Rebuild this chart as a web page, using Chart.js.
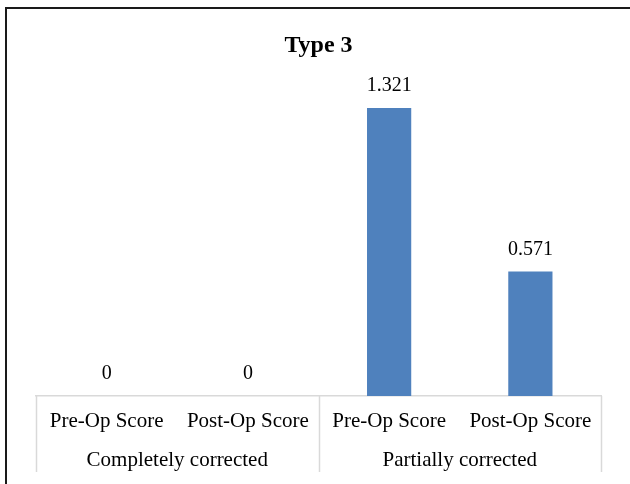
<!DOCTYPE html>
<html>
<head>
<meta charset="utf-8">
<script src="https://cdn.jsdelivr.net/npm/chart.js@4/dist/chart.umd.min.js"></script>
<style>
  html, body { margin: 0; padding: 0; background: #fff; overflow: hidden; }
  #wrap { position: relative; width: 630px; height: 484px; }
  #frame {
    position: absolute; left: 5px; top: 7px; right: -10px; bottom: -10px;
    border-top: 2px solid #1a1a1a; border-left: 2px solid #1a1a1a;
    pointer-events: none;
  }
</style>
</head>
<body>
<div id="wrap">
  <canvas id="chart" width="630" height="484"></canvas>
  <div id="frame"></div>
</div>
<script>
// Chart data
const scoreLabels = ["Pre-Op Score", "Post-Op Score", "Pre-Op Score", "Post-Op Score"]
const groupLabels = ["Completely corrected", "Partially corrected"]
const scoreValues = [0, 0, 1.321, 0.571]
const chartTitle = "Type 3"

const FONT = "'Liberation Serif', 'Times New Roman', serif"
const LINE = "#d9d9d9"

// Value labels above each bar
const valueLabels = {
  id: "valueLabels",
  afterDatasetsDraw(chart) {
    const ctx = chart.ctx
    const meta = chart.getDatasetMeta(0)
    ctx.save()
    ctx.font = "20px " + FONT
    ctx.fillStyle = "#000"
    ctx.textAlign = "center"
    ctx.textBaseline = "middle"
    meta.data.forEach((bar, i) => {
      ctx.fillText(String(scoreValues[i]), bar.x, bar.y - 22)
    })
    ctx.restore()
  },
}

// Group divider lines below the axis, taken from the group scale
const groupDividers = {
  id: "groupDividers",
  afterDraw(chart) {
    const xs = chart.scales.x
    const gs = chart.scales.x2
    const ctx = chart.ctx
    const step = (gs.right - gs.left) / groupLabels.length
    ctx.save()
    ctx.strokeStyle = LINE
    ctx.lineWidth = 1.5
    for (let i = 0; i <= groupLabels.length; i++) {
      const x = Math.round(gs.left + i * step) + 0.5
      ctx.beginPath()
      ctx.moveTo(x, xs.top)
      ctx.lineTo(x, gs.bottom - 2)
      ctx.stroke()
    }
    ctx.restore()
  },
}

new Chart(document.getElementById("chart"), {
  type: "bar",
  data: {
    labels: scoreLabels,
    datasets: [
      {
        data: scoreValues,
        backgroundColor: "#4f81bd",
        barPercentage: 1,
        categoryPercentage: 0.313,
      },
    ],
  },
  options: {
    responsive: false,
    animation: false,
    events: [],
    layout: { padding: { left: 36, right: 29, top: 0, bottom: 10 } },
    plugins: {
      legend: { display: false },
      tooltip: { enabled: false },
      title: {
        display: true,
        text: chartTitle,
        color: "#000",
        font: { family: FONT, size: 24, weight: "bold" },
        padding: { top: 31, bottom: 31 },
      },
    },
    scales: {
      y: {
        display: false,
        min: 0,
        max: 1.4,
      },
      x: {
        weight: 0,
        grid: { display: false, drawTicks: false },
        border: { display: true, color: LINE, width: 1.5 },
        ticks: {
          color: "#000",
          padding: 12.4,
          maxRotation: 0,
          autoSkip: false,
          font: { family: FONT, size: 21 },
        },
      },
      x2: {
        type: "category",
        position: "bottom",
        weight: 1,
        labels: groupLabels,
        grid: { display: false, drawTicks: false },
        border: { display: false },
        ticks: {
          color: "#000",
          padding: 1.4,
          maxRotation: 0,
          autoSkip: false,
          font: { family: FONT, size: 21 },
        },
      },
    },
  },
  plugins: [valueLabels, groupDividers],
})
</script>
</body>
</html>
